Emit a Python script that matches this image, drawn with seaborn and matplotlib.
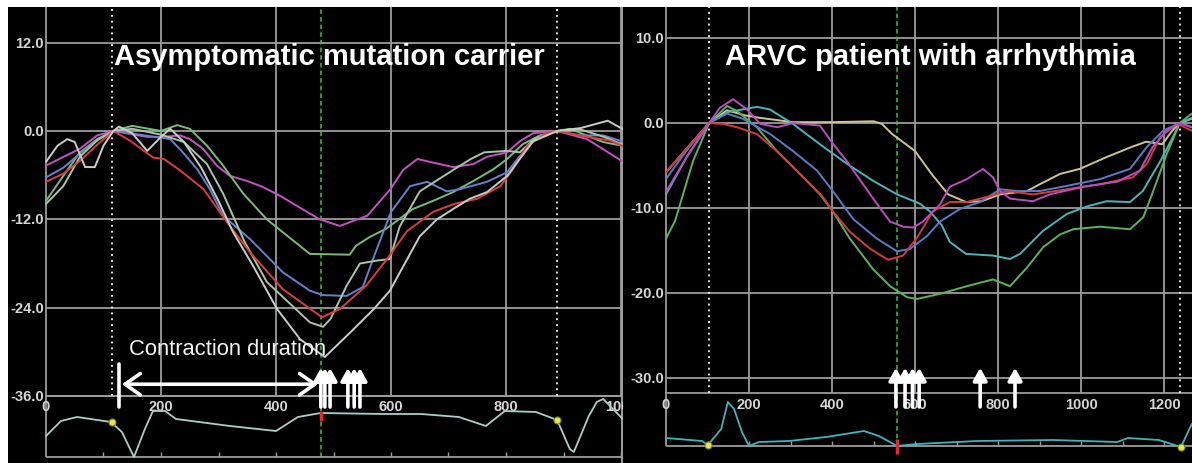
"""
Speckle-tracking strain curves: asymptomatic carrier vs ARVC patient
"""
import matplotlib
matplotlib.use('Agg')
import numpy as np
import pandas as pd
import matplotlib.pyplot as plt
import seaborn as sns

sns.set_style('white')
plt.rcParams['font.family'] = ['Liberation Sans', 'DejaVu Sans']
TICK_FONT = ['Liberation Sans Narrow', 'Liberation Sans', 'DejaVu Sans']

# ===== colours =====
BG = 'black'
C_GRID = '#9c9c9c'
C_TICK = '#d6d6d6'
C_DOT = '#e2e2d2'
C_GDASH = '#3cc43c'
C_YDOT = '#e6e64a'

# ===== left panel: asymptomatic mutation carrier (time ms / strain %) =====
L_TITLE = 'Asymptomatic mutation carrier'
L_YTICKS = [12, 0, -12, -24, -36]
L_XTICKS = [0, 200, 400, 600, 800, 1000]

L_RED_T = [0, 30, 60, 90, 117, 146, 186, 205, 234, 274, 315, 355, 412, 480, 511, 557, 593, 628, 673, 710, 750, 790, 812, 837, 871, 889, 941, 981, 1002]
L_RED_V = [-6.9, -5.8, -4.0, -1.8, 0, -1.3, -3.6, -3.8, -5.4, -7.9, -12.4, -16.5, -21.5, -25.3, -24.2, -21.0, -17.4, -13.6, -11.0, -9.9, -9.2, -7.5, -5.2, -2.0, -0.3, 0, -0.8, -1.3, -2.0]

L_MAG_T = [0, 59, 89, 117, 146, 176, 203, 233, 250, 273, 297, 320, 350, 377, 407, 437, 476, 511, 559, 599, 621, 646, 668, 708, 743, 767, 802, 824, 847, 889, 941, 1002]
L_MAG_V = [-4.7, -2.4, -0.6, 0, -0.4, -0.8, -0.8, -0.6, -1.1, -2.4, -4.7, -6.1, -6.8, -7.6, -8.8, -10.2, -12.0, -12.9, -11.5, -7.9, -5.3, -3.8, -4.2, -4.9, -4.5, -3.5, -2.9, -1.4, -0.3, 0, -1.1, -4.1]

L_BLUE_T = [0, 30, 60, 90, 117, 146, 216, 238, 263, 285, 308, 355, 412, 459, 482, 523, 551, 573, 600, 633, 663, 697, 720, 767, 802, 824, 854, 889, 929, 969, 1002]
L_BLUE_V = [-6.3, -5.0, -3.0, -1.2, 0, -0.3, -1.1, -2.9, -5.2, -7.9, -11.5, -14.7, -19.2, -21.7, -22.3, -22.4, -21.2, -16.5, -11.0, -7.5, -6.9, -8.2, -7.9, -6.9, -5.6, -3.4, -0.8, 0, -0.6, -0.6, -1.4]

L_GREEN_T = [0, 30, 59, 89, 117, 150, 200, 228, 250, 280, 308, 343, 384, 419, 459, 528, 539, 563, 591, 638, 673, 708, 743, 778, 802, 829, 859, 889, 911, 969, 1002]
L_GREEN_V = [-9.5, -6.1, -2.9, -1.1, 0, 0.7, 0.0, 0.8, 0.3, -2.0, -4.7, -8.5, -12.0, -14.2, -16.7, -16.8, -15.6, -14.4, -13.3, -10.6, -9.5, -8.3, -6.8, -5.2, -3.8, -1.8, -0.6, 0, 0.3, -1.5, -2.0]

L_SAGE_T = [0, 30, 59, 90, 117, 150, 200, 240, 280, 308, 345, 384, 459, 482, 495, 523, 546, 576, 598, 615, 650, 710, 739, 762, 802, 824, 850, 889, 930, 970, 1002]
L_SAGE_V = [-9.9, -7.5, -3.5, -1.2, 0, 0.3, -0.5, -1.5, -4.5, -8.5, -15.0, -20.5, -26.0, -26.6, -25.5, -21.0, -18.0, -17.6, -17.4, -13.0, -8.2, -5.2, -3.8, -2.9, -2.7, -2.9, -1.0, 0, 0.2, -0.8, -1.8]

L_WHITE_T = [0, 20, 37, 50, 68, 85, 100, 117, 127, 150, 176, 200, 216, 240, 270, 300, 325, 360, 402, 442, 485, 530, 570, 598, 650, 680, 708, 737, 767, 802, 824, 847, 889, 930, 977, 1002]
L_WHITE_V = [-4.2, -2.0, -1.1, -1.5, -4.9, -4.9, -2.0, 0, 0.6, -0.3, -2.7, -0.8, 0.3, -1.5, -5.0, -9.5, -13.7, -18.3, -24.2, -28.3, -30.7, -27.3, -24.2, -21.7, -14.3, -12.0, -10.6, -9.2, -8.3, -6.1, -3.8, -1.4, 0, 0.4, 1.4, 0.3]

L_ECG_T = [0, 26, 54, 113, 132, 153, 172, 186, 207, 226, 320, 400, 438, 478, 586, 652, 718, 765, 798, 852, 889, 911, 918, 944, 958, 969, 1003]
L_ECG_V = [-1.7, -0.2, 0.2, -0.3, -1.3, -3.8, -1.0, 0.8, 0.8, 0.0, -0.7, -1.2, 0.2, 0.6, 0.5, 0.5, 0.2, -0.7, 0.8, 0.7, -0.1, -3.0, -3.3, 0.3, 1.7, 2.0, 0.0]

L_EVENTS = [115, 889]          # dotted markers (ms)
L_AVC = 478                    # green dashed marker (ms)
L_PEAKS = [478, 485, 494, 525, 536, 546]   # arrows: time to peak strain (ms)
L_CONTRACTION = [127, 473]     # contraction duration (ms)

# ===== right panel: ARVC patient with arrhythmia =====
R_TITLE = 'ARVC patient with arrhythmia'
R_YTICKS = [10, 0, -10, -20, -30]
R_XTICKS = [0, 200, 400, 600, 800, 1000, 1200]

R_RED_T = [0, 50, 104, 137, 171, 219, 267, 323, 378, 402, 443, 492, 535, 571, 605, 643, 684, 725, 781, 822, 884, 966, 1046, 1125, 1159, 1191, 1232, 1267]
R_RED_V = [-5.8, -3.0, 0, -0.1, -0.5, -1.3, -3.3, -6.0, -8.7, -10.4, -12.8, -14.8, -16.1, -15.6, -13.5, -10.4, -9.3, -9.3, -8.6, -8.0, -8.4, -7.8, -7.2, -6.4, -4.8, -1.6, -0.1, -0.9]

R_MAG_T = [0, 50, 104, 130, 162, 195, 227, 268, 306, 371, 403, 436, 469, 508, 540, 572, 595, 619, 660, 684, 725, 764, 788, 805, 829, 884, 925, 1005, 1087, 1142, 1173, 1207, 1238, 1267]
R_MAG_V = [-8.1, -4.0, 0, 1.8, 2.8, 1.6, -0.1, -0.5, 0.0, -0.3, -2.5, -4.5, -6.8, -9.5, -11.6, -12.2, -12.3, -11.6, -9.6, -7.5, -6.6, -5.4, -6.4, -8.0, -8.9, -9.2, -8.4, -7.5, -6.9, -5.6, -2.8, -0.9, 0, -0.5]

R_BLUE_T = [0, 50, 104, 147, 185, 251, 306, 364, 402, 451, 508, 557, 588, 629, 660, 709, 757, 805, 846, 901, 966, 1046, 1118, 1159, 1198, 1238, 1267]
R_BLUE_V = [-6.6, -3.2, 0, 1.1, 0.5, -1.3, -3.3, -5.6, -8.0, -11.3, -13.6, -15.1, -14.8, -13.3, -11.6, -10.1, -9.3, -7.8, -8.0, -8.0, -7.4, -6.6, -5.4, -2.8, -0.9, 0, -0.5]

R_KHAKI_T = [0, 50, 104, 147, 190, 227, 306, 400, 500, 520, 545, 600, 640, 680, 723, 761, 805, 870, 901, 949, 997, 1062, 1123, 1157, 1196, 1220, 1238, 1267]
R_KHAKI_V = [-5.8, -3.0, 0, 1.5, 0.9, 0.6, 0.1, 0.1, 0.2, -0.1, -1.3, -3.3, -6.0, -8.4, -9.3, -9.2, -8.4, -8.0, -7.2, -6.0, -5.4, -4.0, -2.8, -2.2, -2.5, -0.9, 0, 0.5]

R_TEAL_T = [0, 50, 104, 150, 219, 250, 306, 371, 436, 499, 557, 612, 636, 664, 684, 723, 788, 829, 853, 908, 966, 1015, 1062, 1118, 1149, 1191, 1222, 1238, 1267]
R_TEAL_V = [-8.4, -4.0, 0, 1.3, 1.9, 1.6, -0.1, -2.5, -4.8, -6.8, -8.4, -9.5, -10.4, -12.0, -14.0, -15.4, -15.6, -16.0, -15.4, -12.7, -10.7, -9.8, -9.2, -9.3, -8.0, -4.5, -1.6, 0, 0.6]

R_GREEN_T = [0, 22, 65, 104, 147, 171, 219, 267, 323, 371, 402, 443, 499, 540, 581, 605, 660, 725, 788, 829, 870, 909, 950, 981, 1046, 1118, 1150, 1174, 1207, 1238, 1267]
R_GREEN_V = [-13.6, -11.5, -4.5, 0, 2.0, 1.4, -0.5, -3.3, -6.0, -8.4, -10.4, -13.6, -17.2, -19.2, -20.5, -20.7, -20.1, -19.2, -18.4, -19.2, -17.0, -14.6, -13.1, -12.5, -12.2, -12.5, -11.1, -8.0, -3.6, 0, 1.1]

R_ECG_T = [0, 87, 101, 133, 149, 164, 183, 200, 224, 296, 386, 477, 513, 557, 605, 750, 933, 1087, 1113, 1188, 1241, 1267]
R_ECG_V = [0.1, -0.2, -0.6, 1.0, 3.7, 3.0, 0.7, -0.7, -0.3, -0.2, 0.2, 0.8, 0.3, -0.7, -0.5, -0.2, -0.1, -0.3, 0.1, -0.1, -0.8, 1.5]

R_EVENTS = [104, 1238]
R_AVC = 556
R_PEAKS = [554, 576, 594, 610, 757, 841]

# ===== figure geometry (pixels) =====
W, H = 1192, 464
fig = plt.figure(figsize=(W / 100, H / 100), dpi=100, facecolor='white')


def px_axes(x0, x1, y0, y1):
    return fig.add_axes([x0 / W, 1 - y1 / H, (x1 - x0) / W, (y1 - y0) / H])


def lin(p, p0, v0, p1, v1):
    return v0 + (p - p0) * (v1 - v0) / (p1 - p0)


def clean(ax):
    ax.set_facecolor(BG)
    for s in ax.spines.values():
        s.set_visible(False)
    ax.set_xticks([])
    ax.set_yticks([])
    ax.set_xlabel('')
    ax.set_ylabel('')


def draw_curves(ax, curves):
    frames = []
    for name, t, v, c in curves:
        frames.append(pd.DataFrame({'t': t, 'strain': v, 'seg': name}))
    df = pd.concat(frames, ignore_index=True)
    pal = {name: c for name, _, _, c in curves}
    sns.lineplot(data=df, x='t', y='strain', hue='seg', palette=pal,
                 estimator=None, sort=False, legend=False, lw=1.4, ax=ax)


def draw_grid(ax, ecg, yticks, xticks, xmax, axis_val, tick_val, ylab_x,
              bottom_val, ecg_base):
    top = ax.get_ylim()[1]
    ax.hlines(yticks, 0, xmax, color=C_GRID, lw=1.3)
    ax.hlines(axis_val, 0, xmax, color=C_GRID, lw=1.3)
    ax.vlines(xticks[1:], axis_val, top, color=C_GRID, lw=1.3)
    ax.vlines(0, bottom_val, top, color=C_GRID, lw=1.3)
    for y in yticks:
        ax.text(ylab_x, y, f'{y:.1f}', ha='right', va='center', color=C_TICK,
                fontsize=10.5, fontweight='bold', family=TICK_FONT)
    for x in xticks:
        ax.text(x, tick_val, f'{x}', ha='center', va='center', color=C_TICK,
                fontsize=10.5, fontweight='bold', family=TICK_FONT, clip_on=True)
    # ECG baseline with 100 ms ticks
    ecg.hlines(ecg_base, 0, xmax, color=C_GRID, lw=1.3)
    ecg.vlines(np.arange(100, xmax, 100), ecg_base, ecg_base + 0.5, color=C_GRID, lw=1)


def draw_arrows(ax, xs, tip, base):
    for x in xs:
        ax.annotate('', xy=(x, tip), xytext=(x, base),
                    arrowprops=dict(arrowstyle='-|>,head_length=0.5,head_width=0.28',
                                    color='white', lw=2.6, mutation_scale=15,
                                    shrinkA=0, shrinkB=0))


# ============================================================
# left panel
# ============================================================
axL = px_axes(8, 623, 8, 464)
axL.set_xlim(lin(8, 46, 0, 621, 1000), lin(623, 46, 0, 621, 1000))
axL.set_ylim(lin(464, 132, 0, 397, -36), lin(8, 132, 0, 397, -36))
ecgL = axL.twinx()
ecgL.set_ylim(lin(464, 420, 0, 430, -1), lin(8, 420, 0, 430, -1))
clean(axL)
clean(ecgL)
ecgL.patch.set_visible(False)

xmaxL = axL.get_xlim()[1]
topL = axL.get_ylim()[1]
draw_grid(axL, ecgL, L_YTICKS, L_XTICKS, xmaxL, -36,
          lin(407, 132, 0, 397, -36), lin(44, 46, 0, 621, 1000),
          lin(458, 132, 0, 397, -36), -3.8)
# right border of the left panel
axL.vlines(lin(622, 46, 0, 621, 1000), axL.get_ylim()[0], topL, color=C_GRID, lw=1.5)

axL.vlines(L_EVENTS, -36, topL, color=C_DOT, lw=1.4, linestyles=(0, (1, 2)))
axL.vlines(L_AVC, lin(458, 132, 0, 397, -36), topL, color=C_GDASH, lw=1.1,
           linestyles=(0, (3, 2)))

draw_curves(axL, [
    ('mag', L_MAG_T, L_MAG_V, '#c552c4'),
    ('green', L_GREEN_T, L_GREEN_V, '#78bc78'),
    ('blue', L_BLUE_T, L_BLUE_V, '#6682cc'),
    ('sage', L_SAGE_T, L_SAGE_V, '#a9c4a6'),
    ('red', L_RED_T, L_RED_V, '#dc3c40'),
    ('white', L_WHITE_T, L_WHITE_V, '#c6cec6'),
])
axL.set_xlabel('')
axL.set_ylabel('')

sns.lineplot(x=L_ECG_T, y=L_ECG_V, color='#a9cfc6', lw=1.3, estimator=None,
             sort=False, ax=ecgL)
ecgL.scatter(L_EVENTS, [-0.3, -0.1], s=26, color=C_YDOT, edgecolor='#7a7a20',
             lw=0.8, zorder=5)
ecgL.vlines(L_AVC, -0.2, 0.8, color='#ff2020', lw=2.5, zorder=5)
ecgL.set_ylabel('')

axL.text(492, 10.2, L_TITLE, ha='center', va='center', color='white',
         fontsize=21, fontweight='bold')

# contraction duration annotation
axL.plot([L_CONTRACTION[0]] * 2, [-31.65, -37.5], color='white', lw=2.6)
axL.annotate('', xy=(L_CONTRACTION[0] + 5, -34.4), xytext=(L_CONTRACTION[1], -34.4),
             arrowprops=dict(arrowstyle='<->,head_length=0.5,head_width=0.35',
                             color='white', lw=2.6, mutation_scale=22,
                             shrinkA=0, shrinkB=0))
axL.text(316, -29.6, 'Contraction duration', ha='center', va='center',
         color='#f2f2f2', fontsize=15.8)
draw_arrows(axL, L_PEAKS, -32.2, -37.5)

# ============================================================
# right panel
# ============================================================
axR = px_axes(623, 1192, 8, 464)
axR.set_xlim(lin(623, 666, 0, 1164, 1200), lin(1192, 666, 0, 1164, 1200))
axR.set_ylim(lin(464, 124, 0, 379, -30), lin(8, 124, 0, 379, -30))
ecgR = axR.twinx()
ecgR.set_ylim(lin(464, 440, 0, 450, -1), lin(8, 440, 0, 450, -1))
clean(axR)
clean(ecgR)
ecgR.patch.set_visible(False)

xmaxR = axR.get_xlim()[1]
topR = axR.get_ylim()[1]
axis_R = lin(394, 124, 0, 379, -30)
draw_grid(axR, ecgR, R_YTICKS, R_XTICKS, xmaxR, axis_R,
          lin(405, 124, 0, 379, -30), lin(664, 666, 0, 1164, 1200),
          lin(447, 124, 0, 379, -30), -0.7)

axR.vlines(R_EVENTS, axis_R, topR, color=C_DOT, lw=1.4, linestyles=(0, (1, 2)))
axR.vlines(R_AVC, lin(447, 124, 0, 379, -30), topR, color=C_GDASH, lw=1.1,
           linestyles=(0, (3, 2)))

draw_curves(axR, [
    ('khaki', R_KHAKI_T, R_KHAKI_V, '#cdc493'),
    ('teal', R_TEAL_T, R_TEAL_V, '#4db4b8'),
    ('green', R_GREEN_T, R_GREEN_V, '#5bb45b'),
    ('blue', R_BLUE_T, R_BLUE_V, '#5a7cc6'),
    ('red', R_RED_T, R_RED_V, '#d43c3c'),
    ('mag', R_MAG_T, R_MAG_V, '#bb4cc2'),
])
axR.set_xlabel('')
axR.set_ylabel('')

sns.lineplot(x=R_ECG_T, y=R_ECG_V, color='#3fb4bc', lw=1.3, estimator=None,
             sort=False, ax=ecgR)
ecgR.scatter([101, 1241], [-0.6, -0.8], s=26, color=C_YDOT, edgecolor='#7a7a20',
             lw=0.8, zorder=5)
ecgR.vlines(R_AVC, -1.5, 0.0, color='#ff2020', lw=2.5, zorder=5)
ecgR.set_ylabel('')

axR.text(636, 7.9, R_TITLE, ha='center', va='center', color='white',
         fontsize=21, fontweight='bold')
draw_arrows(axR, R_PEAKS, -28.8, -33.4)

plt.savefig('out.png', dpi=100, facecolor='white')
